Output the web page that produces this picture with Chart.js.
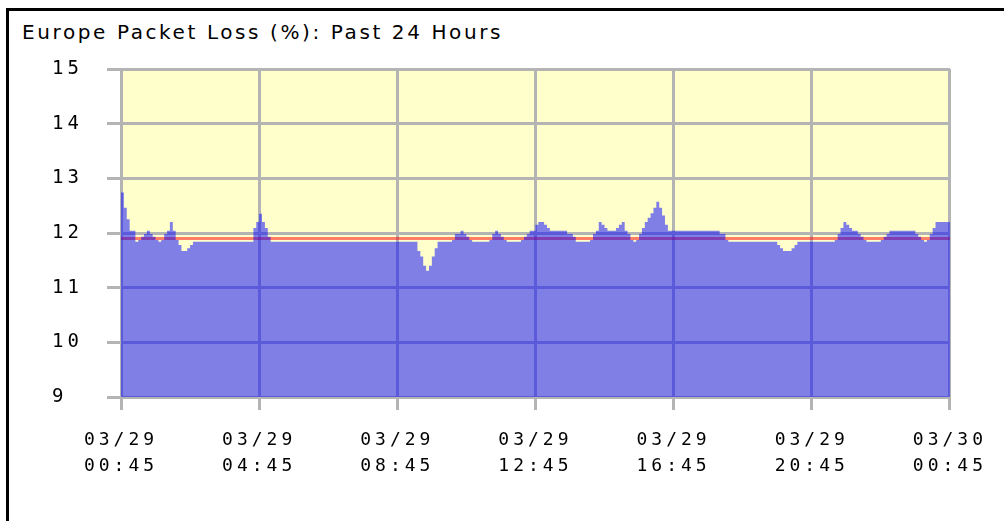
<!DOCTYPE html>
<html>
<head>
<meta charset="utf-8">
<script src="https://cdn.jsdelivr.net/npm/chart.js@4"></script>
<style>
  html, body { margin: 0; padding: 0; background: #ffffff; }
  #frame {
    position: absolute; left: 6px; top: 8px; width: 1200px; height: 600px;
    border-left: 3px solid #000; border-top: 3px solid #000;
  }
  #title {
    position: absolute; left: 22px; top: 22px;
    font-family: "DejaVu Sans", sans-serif; font-size: 20px; line-height: 20px;
    letter-spacing: 2.6px; color: #000; white-space: nowrap;
  }
  #grafico { position: absolute; left: 0; top: 0; }
</style>
</head>
<body>
<div id="frame"></div>
<div id="title">Europe Packet Loss (%): Past 24 Hours</div>
<canvas id="grafico" width="1004" height="521"></canvas>
<script>

// one reading every 5 minutes, from 03/29 00:45 to 03/30 00:45
const stepMinutes = 5;
const lossValues = [
  12.74, 12.46, 12.25, 12.04, 12.04, 11.84, 11.87, 11.93, 11.98, 12.04, 11.98, 11.93,
  11.87, 11.84, 11.87, 11.98, 12.04, 12.20, 12.04, 11.87, 11.78, 11.67, 11.67, 11.72,
  11.78, 11.84, 11.84, 11.84, 11.84, 11.84, 11.84, 11.84, 11.84, 11.84, 11.84, 11.84,
  11.84, 11.84, 11.84, 11.84, 11.84, 11.84, 11.84, 11.84, 11.84, 11.84, 12.09, 12.20,
  12.35, 12.20, 12.09, 11.93, 11.84, 11.84, 11.84, 11.84, 11.84, 11.84, 11.84, 11.84,
  11.84, 11.84, 11.84, 11.84, 11.84, 11.84, 11.84, 11.84, 11.84, 11.84, 11.84, 11.84,
  11.84, 11.84, 11.84, 11.84, 11.84, 11.84, 11.84, 11.84, 11.84, 11.84, 11.84, 11.84,
  11.84, 11.84, 11.84, 11.84, 11.84, 11.84, 11.84, 11.84, 11.84, 11.84, 11.84, 11.84,
  11.84, 11.84, 11.84, 11.84, 11.84, 11.84, 11.84, 11.67, 11.57, 11.40, 11.31, 11.40,
  11.57, 11.72, 11.84, 11.84, 11.84, 11.84, 11.84, 11.87, 11.98, 11.98, 12.04, 11.98,
  11.93, 11.87, 11.84, 11.84, 11.84, 11.84, 11.84, 11.84, 11.87, 11.98, 12.04, 11.98,
  11.93, 11.87, 11.84, 11.84, 11.84, 11.84, 11.84, 11.87, 11.93, 11.98, 12.04, 12.04,
  12.15, 12.20, 12.20, 12.15, 12.09, 12.04, 12.04, 12.04, 12.04, 12.04, 12.04, 11.98,
  11.98, 11.93, 11.84, 11.84, 11.84, 11.84, 11.84, 11.87, 11.98, 12.04, 12.20, 12.15,
  12.09, 12.04, 12.04, 12.04, 12.09, 12.15, 12.20, 12.04, 11.98, 11.87, 11.84, 11.87,
  11.98, 12.09, 12.20, 12.28, 12.36, 12.46, 12.57, 12.46, 12.32, 12.15, 12.04, 12.04,
  12.04, 12.04, 12.04, 12.04, 12.04, 12.04, 12.04, 12.04, 12.04, 12.04, 12.04, 12.04,
  12.04, 12.04, 12.04, 12.04, 11.98, 11.98, 11.87, 11.84, 11.84, 11.84, 11.84, 11.84,
  11.84, 11.84, 11.84, 11.84, 11.84, 11.84, 11.84, 11.84, 11.84, 11.84, 11.84, 11.84,
  11.78, 11.72, 11.67, 11.67, 11.67, 11.72, 11.78, 11.84, 11.84, 11.84, 11.84, 11.84,
  11.84, 11.84, 11.84, 11.84, 11.84, 11.84, 11.84, 11.84, 11.87, 11.98, 12.09, 12.20,
  12.15, 12.09, 12.04, 12.04, 11.98, 11.93, 11.87, 11.84, 11.84, 11.84, 11.84, 11.84,
  11.87, 11.93, 11.98, 12.04, 12.04, 12.04, 12.04, 12.04, 12.04, 12.04, 12.04, 12.04,
  11.98, 11.93, 11.87, 11.84, 11.87, 11.98, 12.09, 12.20, 12.20, 12.20, 12.20, 12.20,
  12.20
];

// average line (red)
const averageLoss = 11.9;

// x axis labels, one every 4 hours
const tickDates = ["03/29", "03/29", "03/29", "03/29", "03/29", "03/29", "03/30"];
const tickTimes = ["00:45", "04:45", "08:45", "12:45", "16:45", "20:45", "00:45"];
const tickEveryMinutes = 240;

const yMin = 9;
const yMax = 15;

const cinza = "#b4b4b4";

// minutes since start -> value
const pontosPerda = lossValues.map((v, i) => ({ x: i * stepMinutes, y: v }));
const ultimoMinuto = (lossValues.length - 1) * stepMinutes;
const pontosMedia = [
  { x: 0, y: averageLoss },
  { x: ultimoMinuto, y: averageLoss },
];

// yellow plot background + wide tick text (the original font is very wide)
const fundoAmarelo = {
  id: "fundoAmarelo",
  beforeLayout(chart) {
    chart.ctx.letterSpacing = "4px";
  },
  beforeDraw(chart) {
    const { ctx, chartArea } = chart;
    ctx.letterSpacing = "4px";
    ctx.save();
    ctx.fillStyle = "#ffffcc";
    ctx.fillRect(chartArea.left, chartArea.top, chartArea.right - chartArea.left, chartArea.bottom - chartArea.top);
    ctx.restore();
  },
};

const ctx = document.getElementById("grafico").getContext("2d");

new Chart(ctx, {
  type: "line",
  data: {
    datasets: [
      {
        label: "Packet Loss",
        data: pontosPerda,
        stepped: true,
        borderWidth: 0,
        pointRadius: 0,
        backgroundColor: "rgba(0,0,255,0.5)",
        fill: "start",
      },
      {
        label: "Average",
        data: pontosMedia,
        borderColor: "rgba(255,0,0,0.5)",
        borderWidth: 3,
        pointRadius: 0,
        fill: false,
      },
    ],
  },
  options: {
    responsive: false,
    animation: false,
    layout: {
      padding: { left: 52, top: 69, right: 51, bottom: 24 },
    },
    plugins: {
      legend: { display: false },
      tooltip: { enabled: false },
    },
    scales: {
      x: {
        type: "linear",
        min: 0,
        max: ultimoMinuto,
        grid: { color: cinza, lineWidth: 3, tickLength: 13 },
        border: { color: cinza, width: 3 },
        ticks: {
          stepSize: tickEveryMinutes,
          autoSkip: false,
          maxRotation: 0,
          padding: 17,
          color: "#000",
          font: { family: "DejaVu Sans Mono", size: 18, lineHeight: 1.45 },
          callback: (v) => {
            const k = Math.round(v / tickEveryMinutes);
            return [tickDates[k], tickTimes[k]];
          },
        },
        // tall enough so the second label line is not clipped
        afterFit: (s) => { s.height = 100; },
      },
      y: {
        min: yMin,
        max: yMax,
        grid: { color: cinza, lineWidth: 3, tickLength: 14 },
        border: { color: cinza, width: 3 },
        ticks: {
          stepSize: 1,
          crossAlign: "far",
          color: "#000",
          font: { family: "DejaVu Sans Mono", size: 19 },
        },
        afterFit: (s) => { s.width = 69; },
      },
    },
  },
  plugins: [fundoAmarelo],
});
</script>
</body>
</html>
